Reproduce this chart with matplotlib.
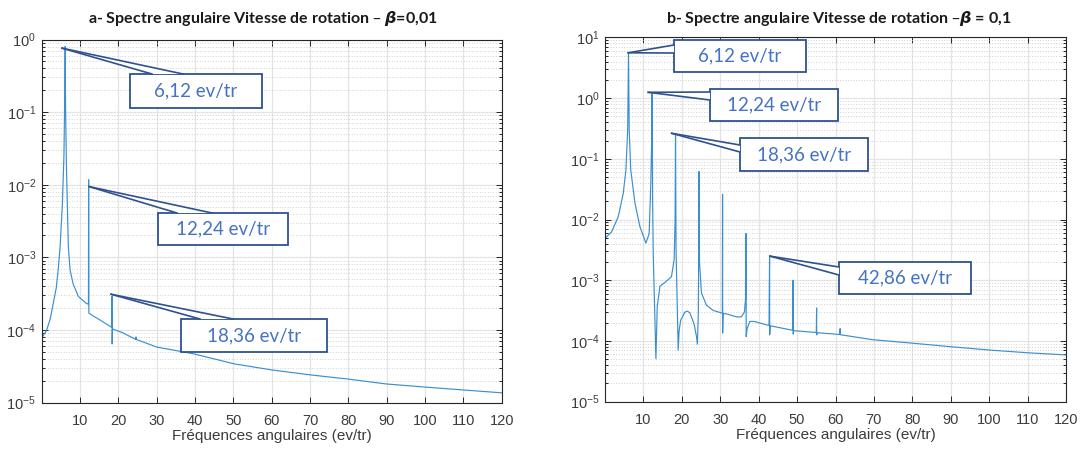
import matplotlib
matplotlib.use('Agg')
import matplotlib.pyplot as plt
from matplotlib.patches import Rectangle, Polygon
from matplotlib.lines import Line2D
from matplotlib.ticker import LogLocator, NullFormatter

plt.rcParams['font.family'] = ['Liberation Sans', 'DejaVu Sans']
plt.rcParams['mathtext.fontset'] = 'dejavusans'

# ---------------- data ----------------
# a- beta = 0.01
freq_a = [0.0, 0.02, 1.3, 2.2, 3.0, 3.8, 4.3, 4.8, 5.4, 5.8, 6.0, 6.12, 6.22, 6.45,
          6.95, 7.4, 8.2, 9.55, 11.5, 12.2, 12.24, 12.3, 13.5, 15.2, 18.33, 18.36,
          18.38, 18.45, 21.0, 24.55, 24.6, 24.65, 30.0, 39.5, 50.3, 60.2, 70.1, 80.0,
          89.9, 100.7, 110.6, 120.0]
amp_a = [1e-6, 7.7e-5, 1.0e-4, 1.4e-4, 2.3e-4, 3.8e-4, 6.7e-4, 1.4e-3, 5.5e-3, 2.5e-2,
         0.15, 0.8, 0.12, 1.8e-2, 1.4e-3, 6.7e-4, 4.3e-4, 2.9e-4, 2.35e-4, 2.25e-4,
         1.17e-2, 1.7e-4, 1.55e-4, 1.37e-4, 1.08e-4, 2.9e-4, 6.4e-5, 1.03e-4, 9.2e-5,
         7.4e-5, 8.0e-5, 7.4e-5, 5.8e-5, 4.7e-5, 3.4e-5, 2.8e-5, 2.4e-5, 2.1e-5,
         1.8e-5, 1.62e-5, 1.48e-5, 1.36e-5]

# b- beta = 0.1
freq_b = [0.0, 0.02, 1.73, 3.46, 4.75, 5.45, 5.9, 6.12, 6.3, 6.7, 7.8, 9.1, 10.65,
          11.5, 11.9, 12.15, 12.24, 12.4, 12.55, 13.0, 13.25, 13.6, 14.3, 15.6, 17.3,
          18.0, 18.25, 18.36, 18.5, 18.8, 19.05, 19.3, 19.7, 20.8, 21.5, 22.1, 23.2,
          23.8, 24.05, 24.3, 24.48, 24.6, 25.1, 26.4, 28.1, 30.3, 30.55, 30.6, 30.62,
          30.75, 31.6, 34.2, 35.5, 36.3, 36.6, 36.72, 36.75, 37.0, 37.7, 38.8, 42.7,
          42.84, 42.87, 43.0, 48.9, 48.96, 48.99, 49.1, 55.0, 55.08, 55.11, 55.2,
          61.15, 61.2, 61.25, 69.7, 80.1, 89.6, 100.0, 110.0, 120.0]
amp_b = [1e-6, 4.9e-3, 6.3e-3, 1.12e-2, 2.7e-2, 6.6e-2, 0.3, 5.6, 0.3, 6.6e-2,
         1.87e-2, 7.6e-3, 4.1e-3, 5.9e-3, 3.5e-2, 0.2, 1.23, 2.0e-2, 2.8e-3, 2.2e-4,
         5.1e-5, 3.7e-4, 8.0e-4, 9.2e-4, 1.15e-3, 2.2e-3, 1.0e-2, 0.26, 3.0e-3, 4.0e-4,
         7.1e-5, 1.5e-4, 2.2e-4, 3.0e-4, 3.1e-4, 2.9e-4, 1.9e-4, 1.2e-4, 8.9e-5,
         3.0e-4, 6.2e-2, 2.0e-3, 6.2e-4, 3.9e-4, 3.2e-4, 2.9e-4, 2.9e-4, 2.6e-2,
         1.35e-4, 2.85e-4, 2.8e-4, 2.5e-4, 2.5e-4, 3.0e-4, 5.0e-4, 5.9e-3, 1.18e-4,
         1.6e-4, 2.1e-4, 2.1e-4, 1.8e-4, 2.5e-3, 1.26e-4, 1.78e-4, 1.5e-4, 1.0e-3,
         1.3e-4, 1.48e-4, 1.38e-4, 3.5e-4, 1.26e-4, 1.37e-4, 1.28e-4, 1.6e-4,
         1.27e-4, 1.05e-4, 9.2e-5, 8.1e-5, 7.1e-5, 6.4e-5, 5.9e-5]

x_ticks = [10, 20, 30, 40, 50, 60, 70, 80, 90, 100, 110, 120]

# callout labels: text and the point they designate (freq, amplitude)
labels_a = ['6,12 ev/tr', '12,24 ev/tr', '18,36 ev/tr']
label_f_a = [5.3, 12.42, 18.08]
label_amp_a = [0.76, 9.4e-3, 3.1e-4]
labels_b = ['6,12 ev/tr', '12,24 ev/tr', '18,36 ev/tr', '42,86 ev/tr']
label_f_b = [6.06, 11.27, 17.36, 42.95]
label_amp_b = [5.6, 1.25, 0.264, 2.5e-3]

title_a = 'a- Spectre angulaire Vitesse de rotation \u2013 $\\mathbfit{\\beta}$=0,01'
title_b = 'b- Spectre angulaire Vitesse de rotation \u2013$\\mathbfit{\\beta}$ = 0,1'
xlabel = 'Fréquences angulaires (ev/tr)'

# ---------------- layout (pixels) ----------------
W, H = 1082, 450
fig = plt.figure(figsize=(W / 100, H / 100), dpi=100)


def px_rect(x0, y0, x1, y1):
    return [x0 / W, 1 - y1 / H, (x1 - x0) / W, (y1 - y0) / H]


axA = fig.add_axes(px_rect(41.7, 39.5, 501.7, 402.5))
axB = fig.add_axes(px_rect(605, 37.5, 1066, 401.7))

LINE_C = '#3a8fd2'
AX_C = '#262626'


def style(ax, ytop):
    ax.set_yscale('log')
    ax.set_xlim(0, 120)
    ax.set_ylim(1e-5, ytop)
    ax.set_xticks(x_ticks)
    ax.set_xticklabels([str(t) for t in x_ticks])
    ax.yaxis.set_major_locator(LogLocator(base=10, numticks=20))
    ax.yaxis.set_minor_locator(LogLocator(base=10, subs=range(2, 10), numticks=20))
    ax.yaxis.set_minor_formatter(NullFormatter())
    ax.grid(which='major', color='#e4e4e4', lw=0.9, ls='-')
    ax.grid(which='minor', axis='y', color='#c4c4c4', lw=0.6, ls=(0, (1, 2.2)))
    ax.set_axisbelow(True)
    ax.tick_params(which='both', direction='in', top=True, right=True,
                   colors=AX_C, labelcolor='#3c3c3c', labelsize=10.5, width=0.7)
    ax.tick_params(which='major', length=4.5)
    ax.tick_params(which='minor', length=2.5)
    ax.tick_params(axis='x', pad=8)
    ax.tick_params(axis='y', pad=4)
    for s in ax.spines.values():
        s.set_color(AX_C)
        s.set_linewidth(0.8)
    ax.set_xlabel(xlabel, fontsize=11, color='#3c3c3c', labelpad=1)


style(axA, 1.0)
style(axB, 10.0)

axA.plot(freq_a, amp_a, color=LINE_C, lw=0.85, clip_on=True)
axB.plot(freq_b, amp_b, color=LINE_C, lw=0.85, clip_on=True)

# titles
fig.text(263 / W, 1 - 19 / H, title_a, ha='center', va='center', fontsize=11.5,
         fontweight='bold', family=['Lato', 'DejaVu Sans'], color='#1a1a1a')
fig.text(839 / W, 1 - 19 / H, title_b, ha='center', va='center', fontsize=11.5,
         fontweight='bold', family=['Lato', 'DejaVu Sans'], color='#1a1a1a')

# ---------------- callouts ----------------
BOX_EC = '#2f528f'
TXT_C = '#4472c4'
inv = fig.transFigure.inverted()


def callout(ax, f, a, text, box, base):
    x0, y0, x1, y1 = box
    apex = inv.transform(ax.transData.transform((f, a)))
    b1 = (base[0][0] / W, 1 - base[0][1] / H)
    b2 = (base[1][0] / W, 1 - base[1][1] / H)
    rect = Rectangle((x0 / W, 1 - y1 / H), (x1 - x0) / W, (y1 - y0) / H,
                     transform=fig.transFigure, fc='white', ec=BOX_EC, lw=1.3, zorder=5)
    fig.add_artist(rect)
    poly = Polygon([b1, b2, tuple(apex)], closed=True, transform=fig.transFigure,
                   fc='white', ec='none', zorder=6)
    fig.add_artist(poly)
    for b in (b1, b2):
        fig.add_artist(Line2D([b[0], apex[0]], [b[1], apex[1]], transform=fig.transFigure,
                              color=BOX_EC, lw=1.2, zorder=7))
    fig.text((x0 + x1) / 2 / W, 1 - (y0 + y1) / 2 / H, text, ha='center', va='center',
             fontsize=13.5, color=TXT_C, family=['Lato', 'DejaVu Sans'], zorder=8)


boxes_a = [(130, 74, 262, 108), (158, 213, 288, 245), (181, 319, 327, 352)]
bases_a = [((152, 74), (183, 74)), ((177, 213), (212, 213)), ((200, 319), (233, 319))]
boxes_b = [(674, 40, 806, 72), (710, 89, 838, 121), (740, 138, 868, 171), (839, 262, 971, 294)]
bases_b = [((674, 45), (674, 53)), ((710, 92), (710, 100)), ((740, 145), (740, 152)),
           ((839, 267), (839, 275))]

for t, f, a, bx, bs in zip(labels_a, label_f_a, label_amp_a, boxes_a, bases_a):
    callout(axA, f, a, t, bx, bs)
for t, f, a, bx, bs in zip(labels_b, label_f_b, label_amp_b, boxes_b, bases_b):
    callout(axB, f, a, t, bx, bs)

fig.savefig('out.png', dpi=100)
